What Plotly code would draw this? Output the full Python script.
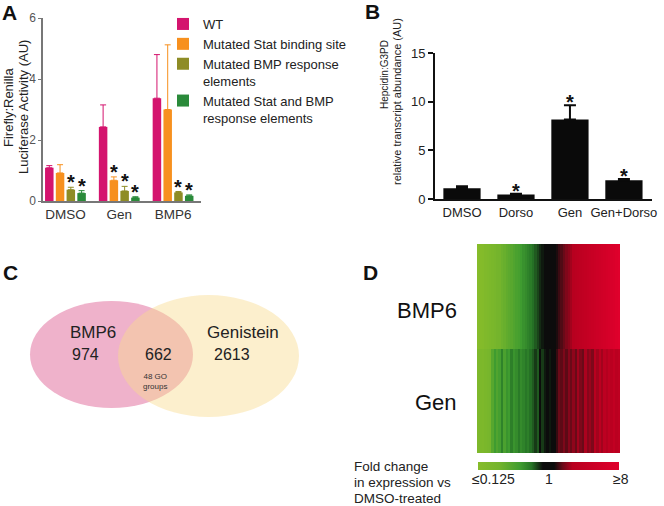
import plotly.graph_objects as go

W, H = 664, 506
FONT = "Arial, Liberation Sans, sans-serif"


def px(x):
    return x / W


def py(y):
    return 1 - y / H


# ---------------- Panel A data ----------------
a_groups = ["DMSO", "Gen", "BMP6"]
a_names = ["WT", "Mutated Stat binding site", "Mutated BMP response<br>elements",
           "Mutated Stat and BMP<br>response elements"]
a_colors = ["#d4146e", "#f7901e", "#8e8c26", "#2a8a3a"]
a_wt = [1.09, 2.43, 3.37]
a_wt_err = [0.07, 0.72, 1.43]
a_stat = [0.92, 0.68, 3.00]
a_stat_err = [0.27, 0.11, 2.12]
a_bmp = [0.37, 0.33, 0.28]
a_bmp_err = [0.08, 0.15, 0.03]
a_both = [0.26, 0.11, 0.17]
a_both_err = [0.08, 0.03, 0.03]
a_sig = [[False, False, False], [False, True, False], [True, True, True], [True, True, True]]
a_yticks = [0, 2, 4, 6]

# ---------------- Panel B data ----------------
b_cats = ["DMSO", "Dorso", "Gen", "Gen+Dorso"]
b_vals = [1.10, 0.47, 8.17, 1.93]
b_err = [0.22, 0.06, 1.45, 0.12]
b_sig = [False, True, True, True]
b_yticks = [0, 5, 10, 15]

# ---------------- Panel C data ----------------
c_sets = ["BMP6", "Genistein"]
c_only_bmp6 = 974
c_shared = 662
c_only_gen = 2613
c_go_groups = 48

# ---------------- Panel D data (log2 fold change) ----------------
d_rows = ["Gen", "BMP6"]
d_bmp6 = [-3.0, -2.92, -2.85, -2.7, -2.62, -2.5, -2.42, -2.3, -2.15, -2.1,
          -1.98, -1.9, -1.78, -1.7, -1.62, -1.5, -1.38, -1.32, -1.2, -1.08,
          -1.0, -0.9, -0.82, -0.7, -0.6, -0.5, -0.38, -0.3, -0.18, -0.08,
          0.02, 0.1, 0.2, 0.3, 0.42, 0.5, 0.6, 0.72, 0.8, 0.9,
          1.02, 1.1, 1.22, 1.3, 1.42, 1.5, 1.6, 1.72, 1.8, 1.9,
          2.02, 2.1, 2.22, 2.3, 2.42, 2.5, 2.62, 2.72, 2.85, 3.0]
d_gen = [-2.6, -2.5, -2.55, -2.4, -2.3, -2.2,
         -1.6, -1.2, -1.5, -1.3, -0.9, -1.4, -1.1, -1.2, -0.85, -1.1, -1.0, -0.8, -1.0, -0.9, -0.75, -0.85,
         -0.7, -0.6, -0.45, -0.6, -0.2, -0.45, -0.3, 0.1, -0.3, 0.2, -0.1, 0.4,
         0.6, 0.55, 0.7, 0.55, 0.75, 0.6, 0.8, 0.6, 0.9, 0.7, 0.6, 0.95, 0.75, 0.85, 0.7, 1.05,
         0.9, 1.15, 0.9, 1.25, 1.0, 1.35, 1.1, 1.5, 1.1, 1.35]
d_tick_text = ["\u22640.125", "1", "\u22658"]

fig = go.Figure()

# ---- Panel A bars ----
a_vals = [a_wt, a_stat, a_bmp, a_both]
a_errs = [a_wt_err, a_stat_err, a_bmp_err, a_both_err]
for name, col, vals, errs in zip(a_names, a_colors, a_vals, a_errs):
    fig.add_trace(go.Bar(
        x=a_groups, y=vals, name=name, marker=dict(color=col, line=dict(width=0)),
        error_y=dict(type="data", array=errs, arrayminus=[0] * len(errs), symmetric=False,
                     color=col, thickness=1, width=3),
        xaxis="x", yaxis="y", showlegend=True))

# ---- Panel B bars ----
fig.add_trace(go.Bar(
    x=b_cats, y=b_vals, width=0.69, marker=dict(color="#0a0a0a", line=dict(width=0)),
    error_y=dict(type="data", array=b_err, arrayminus=[0] * len(b_err), symmetric=False,
                 color="#0a0a0a", thickness=2, width=6),
    xaxis="x2", yaxis="y2", showlegend=False))

# ---- Panel D heatmap ----
colorscale = [[0.0, "#86bc2a"], [0.15, "#74b42c"], [0.3, "#3f9c30"], [0.38, "#267426"],
              [0.46, "#0c0c0c"], [0.54, "#0c0c0c"], [0.6, "#6a0a18"], [0.67, "#b8001f"],
              [1.0, "#e0002c"]]
fig.add_trace(go.Heatmap(
    z=[d_gen, d_bmp6], y=d_rows, zmin=-3, zmax=3, colorscale=colorscale,
    xaxis="x4", yaxis="y4", showscale=True, hoverinfo="skip",
    colorbar=dict(orientation="h", x=px(478), xanchor="left", y=py(462), yanchor="top",
                  len=141, lenmode="pixels", thickness=8, outlinewidth=0,
                  showticklabels=False, ticks="", xpad=0, ypad=0)))

# ---------------- Layout ----------------
a_range = [-0.417, 2.519]
a_x0, a_x1 = 43, 201
bargap, bargroupgap = 0.2, 0.21

fig.update_layout(
    width=W, height=H, autosize=False,
    margin=dict(l=0, r=0, t=0, b=0, pad=0, autoexpand=False),
    paper_bgcolor="white", plot_bgcolor="rgba(0,0,0,0)",
    font=dict(family=FONT, color="#222"),
    barmode="group", bargap=bargap, bargroupgap=bargroupgap,
    legend=dict(x=px(163), y=py(9), xanchor="left", yanchor="top",
                font=dict(size=13, color="#222", family=FONT), valign="top",
                bgcolor="rgba(0,0,0,0)", tracegroupgap=4, itemwidth=30),
    xaxis=dict(domain=[px(a_x0), px(a_x1)], range=a_range, anchor="y",
               showline=True, linecolor="#777", linewidth=1.5, ticks="",
               tickfont=dict(size=13.5, color="#333"), showgrid=False, zeroline=False),
    yaxis=dict(domain=[py(201), py(18)], range=[0, 6], anchor="x", tickvals=a_yticks,
               showline=True, linecolor="#777", linewidth=1.5, ticks="outside", ticklen=3,
               tickcolor="#777", tickfont=dict(size=12, color="#555"),
               showgrid=False, zeroline=False),
    xaxis2=dict(domain=[px(435), px(652)], range=[-0.5, 3.52], anchor="y2",
                showline=True, linecolor="#111", linewidth=2, ticks="",
                tickfont=dict(size=13, color="#222"), showgrid=False, zeroline=False),
    yaxis2=dict(domain=[py(199), py(53)], range=[0, 15], anchor="x2", tickvals=b_yticks,
                showline=True, linecolor="#111", linewidth=2, ticks="outside", ticklen=5,
                tickwidth=2, tickcolor="#111", tickfont=dict(size=13, color="#222"),
                showgrid=False, zeroline=False),
    xaxis4=dict(domain=[px(477), px(620)], range=[-0.5, len(d_bmp6) - 0.5], anchor="y4",
                visible=False),
    yaxis4=dict(domain=[py(453), py(244)], anchor="x4", visible=False),
)


def note(text, x, y, size, color="#222", xanchor="center", angle=0):
    return dict(text=text, x=px(x), y=py(y), xref="paper", yref="paper", showarrow=False,
                xanchor=xanchor, yanchor="middle", textangle=angle,
                font=dict(size=size, color=color))


ann = []
# panel letters
for letter, x, y in [("A", 9, 13), ("B", 372, 12), ("C", 10, 272), ("D", 370, 272)]:
    ann.append(note(f"<b>{letter}</b>", x, y, 21, "#111"))

# axis titles
ann.append(note("Firefly:Renilla", 8, 107, 13, angle=-90))
ann.append(note("Luciferase Activity (AU)", 23, 107, 13, angle=-90))
ann.append(note("Hepcidin:G3PD", 384, 75, 10, angle=-90))
ann.append(note("relative transcript abundance (AU)", 397, 102, 11, angle=-90))

# asterisks panel A
unit_px = (a_x1 - a_x0) / (a_range[1] - a_range[0])
pitch_px = (1 - bargap) / len(a_vals) * unit_px
for i, (vals, errs, sig) in enumerate(zip(a_vals, a_errs, a_sig)):
    for g, v, e, s in zip(a_groups, vals, errs, sig):
        if s:
            ann.append(dict(text="<b>*</b>", x=g, y=v + e, xref="x", yref="y",
                            xshift=(i - (len(a_vals) - 1) / 2) * pitch_px,
                            xanchor="center", yanchor="middle",
                            yshift=5, showarrow=False, font=dict(size=20, color="#111")))
# asterisks panel B
for c, v, e, s in zip(b_cats, b_vals, b_err, b_sig):
    if s:
        ann.append(dict(text="<b>*</b>", x=c, y=v + e, xref="x2", yref="y2",
                        xanchor="center", yanchor="middle",
                        yshift=3, showarrow=False, font=dict(size=20, color="#111")))

# Venn texts
ann.append(note(c_sets[0], 93, 332, 17))
ann.append(note(c_sets[1], 243, 332, 17))
ann.append(note(str(c_only_bmp6), 85, 354, 16))
ann.append(note(str(c_shared), 158, 354, 16))
ann.append(note(str(c_only_gen), 232, 354, 16))
ann.append(note(f"{c_go_groups} GO<br>groups", 155, 381, 8, "#333"))

# heatmap row labels
ann.append(note(d_rows[1], 459, 310, 22, "#111", xanchor="right"))
ann.append(note(d_rows[0], 459, 402, 22, "#111", xanchor="right"))
# colorbar labels
for t, x in zip(d_tick_text, [493, 549, 621]):
    ann.append(note(t, x, 479, 14))
for t, y in [("Fold change", 466), ("in expression vs", 482), ("DMSO-treated", 498)]:
    ann.append(note(t, 352, y, 13.5, xanchor="left"))

fig.update_layout(annotations=ann)

# Venn ellipses
fig.add_shape(type="circle", xref="paper", yref="paper", x0=px(30), x1=px(193),
              y0=py(408), y1=py(301), fillcolor="#efb2cb", line=dict(width=0), layer="below")
fig.add_shape(type="circle", xref="paper", yref="paper", x0=px(118), x1=px(299),
              y0=py(417), y1=py(295), fillcolor="rgb(248,219,141)", opacity=0.44,
              line=dict(width=0), layer="below")

# remove the default 8px page margin so the figure fills the window exactly
fig.write_html("out.html", config={"displayModeBar": False},
               post_script="document.body.style.margin='0';document.body.style.overflow='hidden';")
